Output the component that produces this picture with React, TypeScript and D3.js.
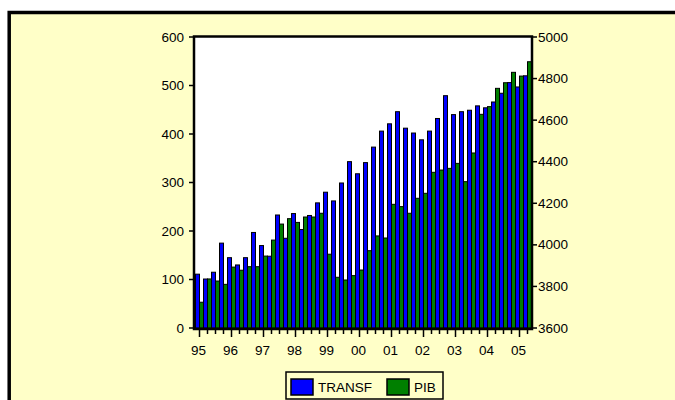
import React from "react";
import * as d3 from "d3";

const quarters: string[] = [
  "1995Q1","1995Q2","1995Q3","1995Q4","1996Q1","1996Q2","1996Q3","1996Q4",
  "1997Q1","1997Q2","1997Q3","1997Q4","1998Q1","1998Q2","1998Q3","1998Q4",
  "1999Q1","1999Q2","1999Q3","1999Q4","2000Q1","2000Q2","2000Q3","2000Q4",
  "2001Q1","2001Q2","2001Q3","2001Q4","2002Q1","2002Q2","2002Q3","2002Q4",
  "2003Q1","2003Q2","2003Q3","2003Q4","2004Q1","2004Q2","2004Q3","2004Q4",
  "2005Q1","2005Q2",
];
const transf: number[] = [
  111, 101, 115, 175, 145, 130, 145, 197,
  170, 148, 233, 185, 236, 203, 232, 258,
  280, 262, 299, 343, 318, 341, 373, 406,
  421, 446, 412, 402, 388, 406, 432, 479,
  440, 446, 449, 458, 454, 466, 484, 506,
  497, 520,
];
const pib: number[] = [
  3724, 3836, 3826, 3810, 3893, 3878, 3895, 3895,
  3946, 4023, 4100, 4126, 4108, 4134, 4134, 4152,
  3955, 3844, 3831, 3852, 3879, 3972, 4043, 4033,
  4195, 4184, 4152, 4224, 4248, 4349, 4360, 4368,
  4392, 4304, 4442, 4628, 4665, 4753, 4780, 4830,
  4812, 4881,
];
const leftTicks: number[] = [0, 100, 200, 300, 400, 500, 600];
const rightTicks: number[] = [3600, 3800, 4000, 4200, 4400, 4600, 4800, 5000];
const yearLabels: string[] = ["95","96","97","98","99","00","01","02","03","04","05"];
const seriesNames: string[] = ["TRANSF", "PIB"];

const BG = "#FFFFC8";
const BLUE = "#0000FF";
const GREEN = "#007F00";
const FONT = "'Liberation Sans', Arial, sans-serif";
const FS = 13.5;

export default function App() {
  const W = 675, H = 400;
  const left = 194, right = 532, top = 37, bottom = 328;

  const x = d3.scaleBand<string>().domain(quarters).range([195.5, 531.5]).paddingInner(0).paddingOuter(0);
  const sub = d3.scaleBand<string>().domain(seriesNames).range([0, x.bandwidth()]);
  const yL = d3.scaleLinear().domain([0, 600]).range([bottom, top]);
  const yR = d3.scaleLinear().domain([3600, 5000]).range([bottom, top]);

  return (
    <svg width={W} height={H} style={{ position: "absolute", left: 0, top: 0 }}>
      <rect x={0} y={0} width={W} height={H} fill="#ffffff" />
      <rect x={9.2} y={12.5} width={720} height={420} fill={BG} stroke="#000" strokeWidth={3.5} />
      <rect x={left} y={top} width={right - left} height={bottom - top} fill="#ffffff" />
      {quarters.map((q, i) => (
        <g key={q}>
          <rect
            x={(x(q) as number) + (sub("TRANSF") as number)}
            y={yL(transf[i])}
            width={sub.bandwidth()}
            height={bottom - yL(transf[i])}
            fill={BLUE}
            stroke="#000"
            strokeWidth={1}
          />
          <rect
            x={(x(q) as number) + (sub("PIB") as number)}
            y={yR(pib[i])}
            width={sub.bandwidth()}
            height={bottom - yR(pib[i])}
            fill={GREEN}
            stroke="#000"
            strokeWidth={1}
          />
        </g>
      ))}
      <rect x={left} y={top - 0.5} width={right - left} height={bottom - top + 1.5} fill="none" stroke="#000" strokeWidth={2.5} />
      {leftTicks.map((t) => (
        <g key={"l" + t}>
          <line x1={left - 5} x2={left} y1={yL(t)} y2={yL(t)} stroke="#000" strokeWidth={1.5} />
          <text x={left - 10} y={yL(t)} textAnchor="end" dominantBaseline="central" fontFamily={FONT} fontSize={FS} fill="#000">{t}</text>
        </g>
      ))}
      {rightTicks.map((t) => (
        <g key={"r" + t}>
          <line x1={right} x2={right + 5} y1={yR(t)} y2={yR(t)} stroke="#000" strokeWidth={1.5} />
          <text x={right + 6} y={yR(t)} textAnchor="start" dominantBaseline="central" fontFamily={FONT} fontSize={FS} fill="#000">{t}</text>
        </g>
      ))}
      {quarters.map((q) => {
        const cx = (x(q) as number) + x.bandwidth() / 2;
        const major = q.endsWith("Q1");
        return (
          <line key={"t" + q} x1={cx} x2={cx} y1={bottom + 1} y2={bottom + (major ? 9 : 6)} stroke="#000" strokeWidth={1.5} />
        );
      })}
      {quarters.filter((q) => q.endsWith("Q1")).map((q, i) => {
        const cx = (x(q) as number) + x.bandwidth() / 2;
        return (
          <text key={"xl" + q} x={cx - 1} y={355} textAnchor="middle" fontFamily={FONT} fontSize={FS} fill="#000">{yearLabels[i]}</text>
        );
      })}
      <rect x={286} y={372} width={157} height={27} fill={BG} stroke="#000" strokeWidth={1.5} />
      <rect x={291} y={379} width={22} height={16} fill={BLUE} stroke="#000" strokeWidth={1.5} />
      <text x={318} y={391.5} fontFamily={FONT} fontSize={FS} fill="#000">{seriesNames[0]}</text>
      <rect x={387} y={379} width={22} height={16} fill={GREEN} stroke="#000" strokeWidth={1.5} />
      <text x={414} y={391.5} fontFamily={FONT} fontSize={FS} fill="#000">{seriesNames[1]}</text>
    </svg>
  );
}
